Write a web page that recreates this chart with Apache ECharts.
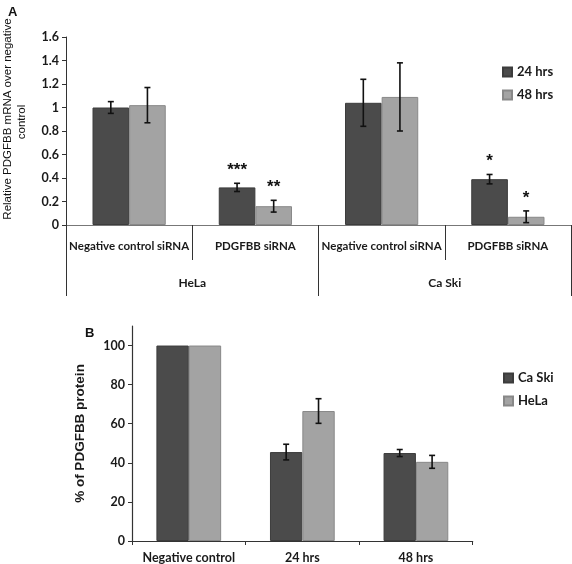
<!DOCTYPE html>
<html>
<head>
<meta charset="utf-8">
<script src="https://cdn.jsdelivr.net/npm/echarts@6/dist/echarts.min.js"></script>
<style>html,body{margin:0;padding:0;background:#fff}#c{width:572px;height:564px}</style>
</head>
<body>
<div id="c"></div>
<script>
// ---- Panel A data ----
const catsA = ['Negative control siRNA', 'PDGFBB siRNA', 'Negative control siRNA', 'PDGFBB siRNA'];
const groupsA = ['HeLa', 'Ca Ski'];
const a24 = [1.00, 0.32, 1.04, 0.39];
const a24Err = [0.05, 0.035, 0.20, 0.04];
const a48 = [1.02, 0.16, 1.09, 0.07];
const a48Err = [0.15, 0.05, 0.29, 0.05];
const a24Sig = ['', '***', '', '*'];
const a48Sig = ['', '**', '', '*'];
const titleA = ['Relative PDGFBB mRNA over negative', 'control'];
// ---- Panel B data ----
const catsB = ['Negative control', '24 hrs', '48 hrs'];
const bCaSki = [100, 45.5, 45];
const bCaSkiErr = [0, 4, 1.8];
const bHeLa = [100, 66.5, 40.5];
const bHeLaErr = [0, 6.3, 3.3];
const bTicks = [0, 20, 40, 60, 80, 100];

const DARK = '#4b4b4b', LIGHT = '#a3a3a3';
const FONT = 'Lato, "Open Sans", sans-serif';
const SANS = '"Liberation Sans", Arial, sans-serif';

function errData(vals, errs, sigs) {
  return vals.map((v, i) => [i, v - errs[i], v + errs[i], errs[i], sigs ? sigs[i] : '']);
}
function errSeries(name, xi, yi, data, side, gapFrac) {
  return {
    type: 'custom', name: name, xAxisIndex: xi, yAxisIndex: yi, z: 5,
    encode: { x: 0, y: [1, 2] },
    data: data,
    renderItem: function (params, api) {
      const x = api.value(0);
      const err = api.value(3);
      const sig = api.value(4);
      const band = api.size([1, 0])[0];
      const barW = band * (1 - gapFrac) / 2;
      const cx = api.coord([x, 0])[0] + side * barW / 2;
      const lo = api.coord([x, api.value(1)])[1];
      const hi = api.coord([x, api.value(2)])[1];
      const ch = [];
      const st = { stroke: '#111', lineWidth: 1.6 };
      if (err > 0) {
        ch.push({ type: 'line', shape: { x1: cx, y1: lo, x2: cx, y2: hi }, style: st });
        ch.push({ type: 'line', shape: { x1: cx - 3, y1: lo, x2: cx + 3, y2: lo }, style: st });
        ch.push({ type: 'line', shape: { x1: cx - 3, y1: hi, x2: cx + 3, y2: hi }, style: st });
      }
      if (sig) {
        ch.push({ type: 'text', x: cx, y: hi - 13, style: { text: sig, fill: '#111', font: 'bold 17px ' + SANS, align: 'center', verticalAlign: 'middle' } });
      }
      return { type: 'group', children: ch };
    }
  };
}

const chart = echarts.init(document.getElementById('c'), null, { renderer: 'canvas' });
const axisTxt = { color: '#1a1a1a', fontFamily: FONT, fontWeight: 'bold', fontSize: 12 };
const option = {
  animation: false,
  backgroundColor: '#fff',
  title: [
    { text: 'A', left: 3, top: 1, textStyle: { fontFamily: SANS, fontWeight: 'bold', fontSize: 13, color: '#111' } },
    { text: 'B', left: 80, top: 322, textStyle: { fontFamily: SANS, fontWeight: 'bold', fontSize: 13, color: '#111' } }
  ],
  graphic: [
    { type: 'text', x: 8, y: 119, rotation: Math.PI / 2,
      style: { text: titleA[0], font: '11.5px ' + SANS, fill: '#111', align: 'center', verticalAlign: 'middle' } },
    { type: 'text', x: 22, y: 122, rotation: Math.PI / 2,
      style: { text: titleA[1], font: '11.5px ' + SANS, fill: '#111', align: 'center', verticalAlign: 'middle' } }
  ],
  legend: [
    { orient: 'vertical', left: 497, top: 60, itemWidth: 9, itemHeight: 9, itemGap: 9, icon: 'rect',
      data: ['24 hrs', '48 hrs'], textStyle: Object.assign({}, axisTxt, { fontSize: 13, lineHeight: 14 }) },
    { orient: 'vertical', left: 498, top: 366, itemWidth: 9, itemHeight: 9, itemGap: 9, icon: 'rect',
      data: ['Ca Ski', 'HeLa'], textStyle: Object.assign({}, axisTxt, { fontSize: 13, lineHeight: 14 }) }
  ],
  grid: [
    { left: 66, top: 37, width: 505, height: 188 },
    { left: 132, top: 326, width: 340.7, height: 217.4 }
  ],
  xAxis: [
    { type: 'category', gridIndex: 0, data: catsA, position: 'bottom',
      axisLine: { show: true, lineStyle: { color: '#777', width: 1 } },
      axisTick: { show: true, interval: 0, length: 35, lineStyle: { color: '#333', width: 1 } },
      axisLabel: Object.assign({ margin: 15, interval: 0 }, axisTxt, { fontSize: 11.5 }) },
    { type: 'category', gridIndex: 0, data: groupsA, position: 'bottom',
      axisLine: { show: false },
      axisTick: { show: true, interval: 0, length: 71, lineStyle: { color: '#333', width: 1 } },
      axisLabel: Object.assign({ margin: 52, interval: 0 }, axisTxt, { fontSize: 12 }) },
    { type: 'category', gridIndex: 1, data: catsB,
      axisLine: { show: true, lineStyle: { color: '#333', width: 1.2 } },
      axisTick: { show: true, interval: 0, length: 4, lineStyle: { color: '#333' } },
      axisLabel: Object.assign({ margin: 10, interval: 0 }, axisTxt, { fontSize: 12.5 }) }
  ],
  yAxis: [
    { type: 'value', gridIndex: 0, min: 0, max: 1.6, interval: 0.2,
      axisLine: { show: true, lineStyle: { color: '#333', width: 1 } },
      axisTick: { show: true, length: 4, lineStyle: { color: '#333' } },
      splitLine: { show: false },
      axisLabel: Object.assign({ margin: 7 }, axisTxt, { fontSize: 12.5 }) },
    { type: 'value', gridIndex: 1, min: 0, max: 110, interval: 20,
      name: '% of PDGFBB protein', nameLocation: 'middle', nameRotate: 90, nameGap: 45,
      nameTextStyle: { fontFamily: SANS, fontWeight: 'bold', fontSize: 13.5, color: '#1a1a1a' },
      axisLine: { show: true, lineStyle: { color: '#333', width: 1.2 } },
      axisTick: { show: true, length: 4, customValues: bTicks, lineStyle: { color: '#333' } },
      splitLine: { show: false },
      axisLabel: Object.assign({ margin: 7, customValues: bTicks }, axisTxt, { fontSize: 12.5 }) }
  ],
  series: [
    { type: 'bar', name: '24 hrs', xAxisIndex: 0, yAxisIndex: 0, data: a24, barGap: '0%', barCategoryGap: '42%',
      itemStyle: { color: DARK, borderColor: '#3c3c3c', borderWidth: 1 } },
    { type: 'bar', name: '48 hrs', xAxisIndex: 0, yAxisIndex: 0, data: a48, barGap: '0%', barCategoryGap: '42%',
      itemStyle: { color: LIGHT, borderColor: '#888', borderWidth: 1 } },
    { type: 'bar', name: 'Ca Ski', xAxisIndex: 2, yAxisIndex: 1, data: bCaSki, barGap: '0%', barCategoryGap: '43%',
      itemStyle: { color: DARK, borderColor: '#3c3c3c', borderWidth: 1 } },
    { type: 'bar', name: 'HeLa', xAxisIndex: 2, yAxisIndex: 1, data: bHeLa, barGap: '0%', barCategoryGap: '43%',
      itemStyle: { color: LIGHT, borderColor: '#888', borderWidth: 1 } },
    errSeries('err24', 0, 0, errData(a24, a24Err, a24Sig), -1, 0.42),
    errSeries('err48', 0, 0, errData(a48, a48Err, a48Sig), 1, 0.42),
    errSeries('errCa', 2, 1, errData(bCaSki, bCaSkiErr), -1, 0.43),
    errSeries('errHe', 2, 1, errData(bHeLa, bHeLaErr), 1, 0.43)
  ]
};
chart.setOption(option);
</script>
</body>
</html>
